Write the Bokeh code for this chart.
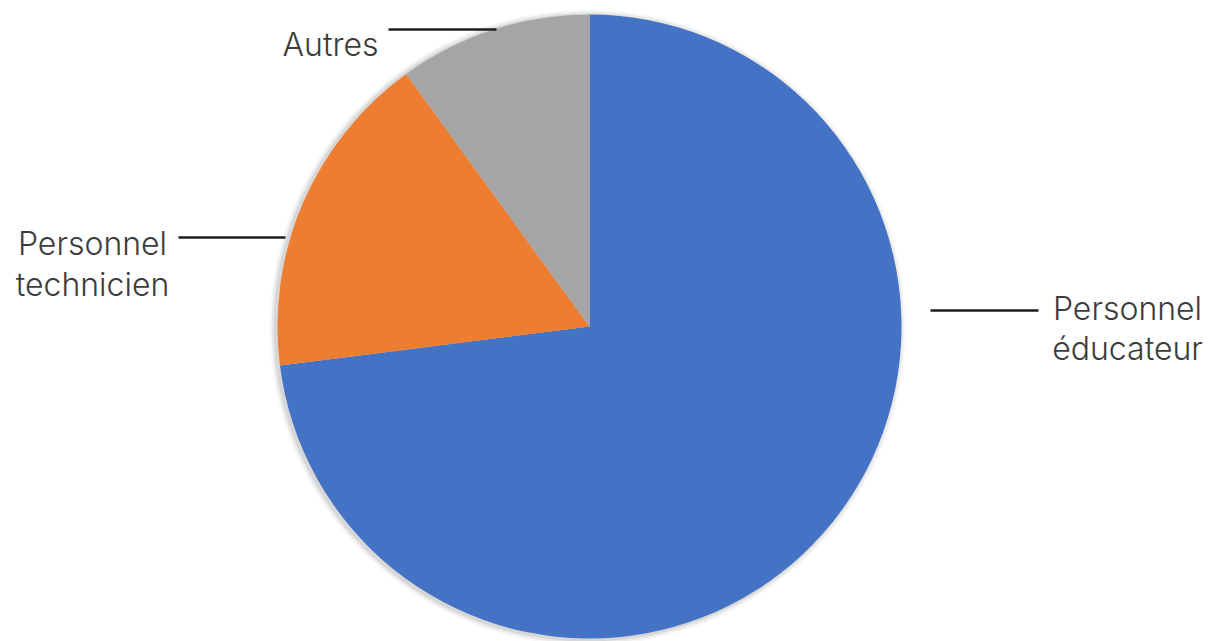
import math
from bokeh.plotting import figure
from bokeh.models import Range1d, ColumnDataSource
from bokeh.core.properties import value
from bokeh.embed import file_html
from bokeh.resources import INLINE

# ---- data ----
categories = ["Personnel éducateur", "Personnel technicien", "Autres"]
shares = [73, 17, 10]
colors = ["#4472C4", "#ED7D31", "#A5A5A5"]

label_lines = [["Personnel", "éducateur"], ["Personnel", "technicien"], ["Autres"]]

W, H = 1209, 641
p = figure(width=W, height=H, output_backend="svg", toolbar_location=None,
           x_range=Range1d(0, W), y_range=Range1d(0, H), min_border=0,
           match_aspect=False)
p.axis.visible = False
p.grid.visible = False
p.outline_line_color = None
p.background_fill_color = "white"

cx, cy, r = 589, 315, 312

# soft shadow
for dr, a in [(6, 0.03), (4, 0.05), (2, 0.08)]:
    p.circle(x=[cx - 2], y=[cy - 1], radius=r + dr, radius_units="screen",
             fill_color="black", fill_alpha=a, line_color=None)

total = sum(shares)
starts, ends = [], []
cum = 0.0
for s in shares:
    starts.append(math.pi / 2 - 2 * math.pi * cum / total)
    cum += s
    ends.append(math.pi / 2 - 2 * math.pi * cum / total)

src = ColumnDataSource(dict(cat=categories, val=shares, start=starts, end=ends, color=colors))
p.wedge(x=cx, y=cy, radius=r, radius_units="screen", start_angle="start", end_angle="end",
        direction="clock", fill_color="color", line_color=None, source=src)

font = value("'Inter Light', Inter")
fs = "32px"
tc = "#3c3c3c"
lc = "#1e1e1e"
lw = 2.5
# Personnel éducateur (right)
p.text(x=[1127, 1127], y=[333, 293], text=label_lines[0], text_align="center",
       text_baseline="alphabetic", text_font=font, text_font_size=fs, text_color=tc)
p.segment(x0=[930], y0=[331], x1=[1038], y1=[331], line_color=lc, line_width=lw)
# Personnel technicien (left)
p.text(x=[92, 92], y=[398, 357], text=label_lines[1], text_align="center",
       text_baseline="alphabetic", text_font=font, text_font_size=fs, text_color=tc)
p.segment(x0=[178], y0=[404], x1=[285], y1=[404], line_color=lc, line_width=lw)
# Autres (top)
p.text(x=[378], y=[597], text=label_lines[2], text_align="right",
       text_baseline="alphabetic", text_font=font, text_font_size=fs, text_color=tc)
p.segment(x0=[388], y0=[612], x1=[496], y1=[612], line_color=lc, line_width=lw)

open("out.html", "w").write(file_html(p, INLINE))
